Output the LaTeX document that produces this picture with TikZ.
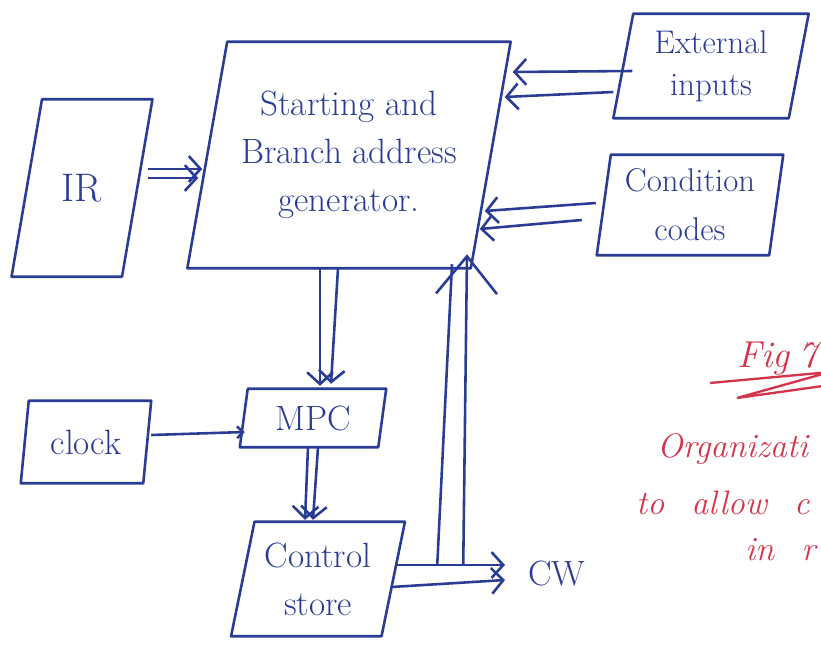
\documentclass[tikz,border=0pt]{standalone}
\usepackage{fontspec}
\usetikzlibrary{positioning, arrows.meta, calc}
\definecolor{ink}{HTML}{2A3C94}
\definecolor{redink}{HTML}{D3364A}
\tikzset {
    >={Straight Barb[length=10pt, width=22pt]},
    block/.style={inner sep=0pt, text=ink, align=center, font=\fontsize{30}{41}\selectfont},
    frame/.style={draw=ink, line width=2.2pt, line join=round},
    bus/.style={->, draw=ink, line width=2.2pt},
    note/.style={text=redink, anchor=base west, inner sep=0pt, font=\itshape\fontsize{29}{36}\selectfont}
}
\begin{document}
\begin{tikzpicture}[x=0.03cm, y=-0.03cm]
    \useasboundingbox (0,0) rectangle (821,644);

    \node[block, minimum width=8.49cm, minimum height=6.78cm] (gen) at (349,155) {Starting and\\Branch address\\generator.};
    \node[block, minimum width=3.3cm, minimum height=5.31cm, font=\fontsize{34}{40}\selectfont] (ir) at (82,188) {IR};
    \node[block, minimum width=5.25cm, minimum height=3.12cm, font=\fontsize{28}{36}\selectfont] (ext) at (711,66) {External\\inputs};
    \node[block, minimum width=5.16cm, minimum height=3.0cm, font=\fontsize{28}{42}\selectfont] (cc) at (690,205) {Condition\\codes};
    \node[block, minimum width=4.14cm, minimum height=1.74cm] (mpc) at (313,418) {MPC};
    \node[block, minimum width=3.66cm, minimum height=2.46cm] (clk) at (86,442) {clock};
    \node[block, minimum width=4.5cm, minimum height=3.42cm] (cs) at (318,579) {Control\\store};
    \node[block, anchor=west] (cw) at (528,573) {CW};

    \foreach \n/\s in {gen/17, ir/13, ext/8.5, cc/6, mpc/3.4, clk/3.4, cs/10}
        \draw[frame] ([xshift=\s]\n.north west) -- ([xshift=\s]\n.north east)
            -- ([xshift=-\s]\n.south east) -- ([xshift=-\s]\n.south west) -- cycle;

    \draw[bus] ($(ir.east)+(11,-19)$) -- ($(ir.east -| gen.west)+(-5,-19)$);
    \draw[bus] ($(ir.east)+(11,-10)$) -- ($(ir.east -| gen.west)+(-9,-10)$);
    \draw[bus] ($(ext.west)+(9,5)$) -- ($(gen.east)+(22,-83)$);
    \draw[bus] ($(ext.west)+(-10,26)$) -- ($(gen.east)+(14,-58)$);
    \draw[bus] ($(cc.west)+(-8,-2)$) -- ($(gen.east)+(-6,56)$);
    \draw[bus] ($(cc.west)+(-22,15)$) -- ($(gen.east)+(-11,74)$);
    \draw[bus] ($(gen.south)+(-29,0)$) -- ($(mpc.north)+(7,-3)$);
    \draw[bus] ($(gen.south)+(-11,0)$) -- ($(mpc.north)+(18,-5)$);
    \draw[bus] ($(mpc.south)+(-5,0)$) -- ($(cs.north)+(-13,-2)$);
    \draw[bus] ($(mpc.south)+(5,0)$) -- ($(cs.north)+(-5,-2)$);
    \draw[bus, -{Straight Barb[length=5pt, width=10pt]}] ($(clk.east)+(4,-7)$) -- ($(mpc.west)+(1,14)$);
    \draw[bus] ($(cs.east)+(3,-14)$) -- ($(cw.west)+(-23,-8)$);
    \draw[bus] ($(cs.east)+(-2,8)$) -- ($(cw.west)+(-23,7)$);
    \draw[bus, -] ($(cs.east)+(44,-14)$) -- ($(gen.south)+(103,-4)$);
    \draw[bus, -{Straight Barb[length=32pt, width=52pt]}] ($(cs.east)+(70,-14)$) -- ($(gen.south)+(118,-14)$);

    \node[note, font=\itshape\fontsize{32}{38}\selectfont] (fig) at (737,367) {Fig\hspace{0.25em}7};
    \draw[redink, line width=2pt] (710,383) -- (830,372) -- (737,398) -- (830,385);
    \node[note] (org) at (657,457) {Organizati};
    \node[note] (allow) at (636,514) {to\hspace{0.8em}allow\hspace{0.8em}c};
    \node[note] (in) at (745,560) {in\hspace{0.8em}r};
\end{tikzpicture}
\end{document}
